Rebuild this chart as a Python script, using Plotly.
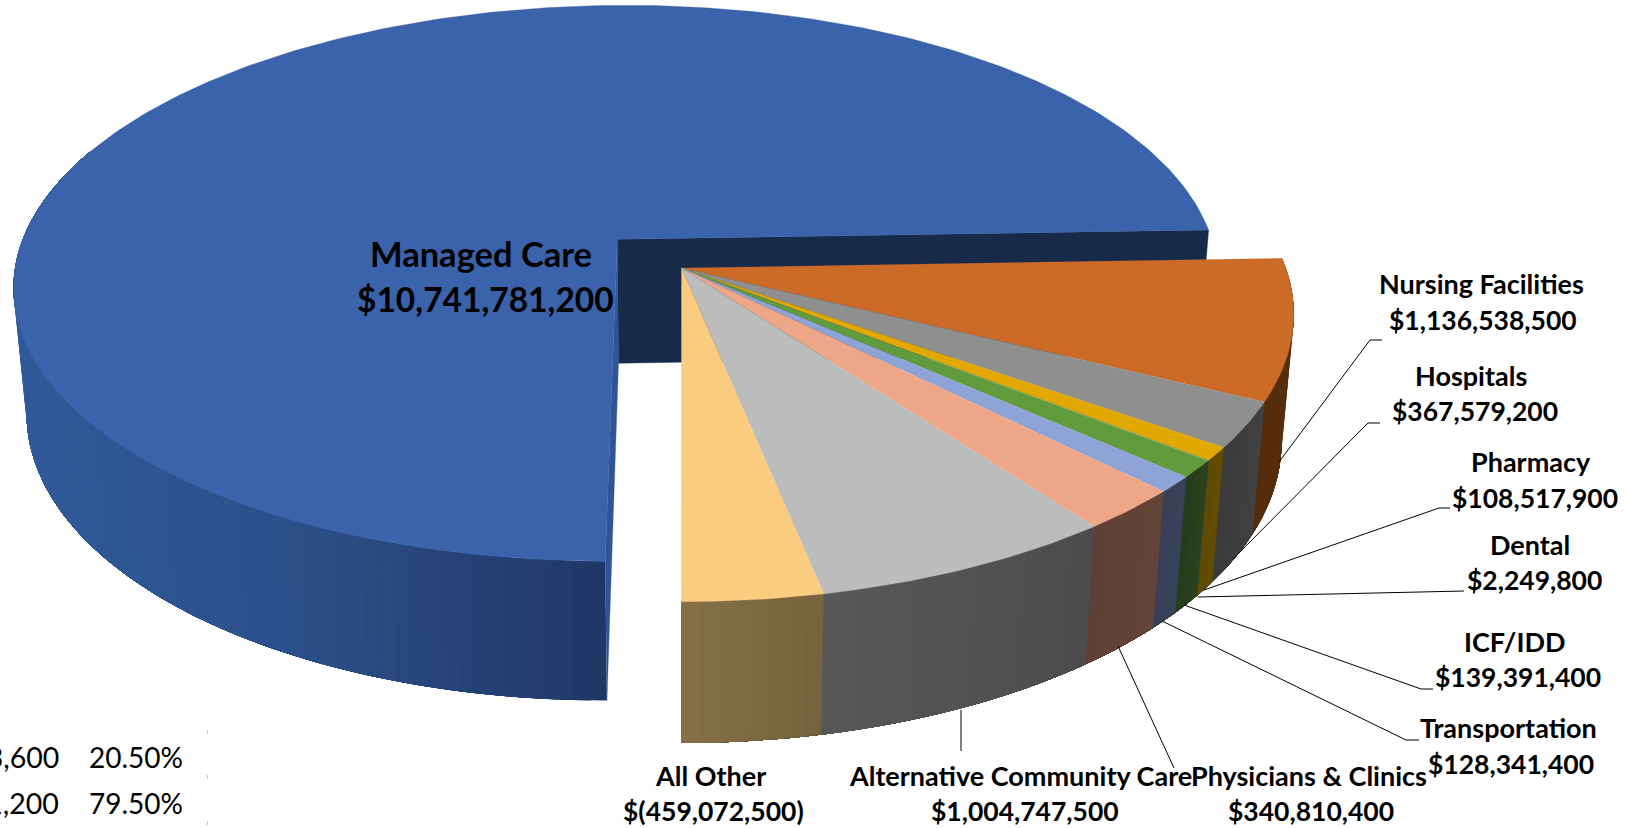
import math
import plotly.graph_objects as go

# Budget categories, clockwise from the pulled-out group's far edge
slice_names = ["Nursing Facilities", "Hospitals", "Pharmacy", "Dental", "ICF/IDD",
               "Transportation", "Physicians & Clinics", "Alternative Community Care", "All Other"]
slice_values = [1136538500, 367579200, 108517900, 2249800, 139391400,
                128341400, 340810400, 1004747500, -459072500]
managed_name = "Managed Care"
managed_value = 10741781200

top_colors = ["#cc6a28", "#8f8f8f", "#e0a800", "#4a72b8", "#629a3e",
              "#8ea3d6", "#eea688", "#bcbcbc", "#f9cc80"]
wall_colors = [((92, 50, 16), (84, 44, 12)), ((66, 66, 66), (58, 58, 58)), ((100, 78, 0), (92, 72, 0)),
               ((40, 60, 100), (40, 60, 100)), ((42, 66, 30), (36, 60, 26)),
               ((58, 66, 92), (54, 62, 88)), ((98, 68, 56), (94, 64, 54)),
               ((76, 76, 76), (88, 88, 88)), ((118, 98, 60), (134, 112, 72))]
managed_top = "#3a63ab"
managed_cut = "#172a4a"
managed_inner = "#2f5597"
managed_wall_stops = [(0, (48, 90, 154)), (300, (44, 79, 137)), (610, (31, 55, 100))]

# Summary table rows (values shown beside the pie)
summary_amounts = ["$2,769,103,600", "$10,741,781,200"]
summary_shares = ["20.50%", "79.50%"]

# Label placement: centre x, name line y, amount line y
label_slots = {
    "Nursing Facilities": (1481, 283, 1483, 320),
    "Hospitals": (1471, 375, 1475, 411),
    "Pharmacy": (1531, 461, 1535, 498),
    "Dental": (1530, 544, 1534, 580),
    "ICF/IDD": (1515, 641, 1518, 677),
    "Transportation": (1508, 727, 1511, 764),
    "Physicians & Clinics": (1309, 775, 1311, 811),
    "Alternative Community Care": (1020, 775, 1025, 811),
    "All Other": (710, 775, 713, 811),
}
leader_paths = [
    [(1382, 340), (1370, 340), (1279, 462)],
    [(1380, 423), (1368, 423), (1233, 559)],
    [(1450, 508), (1439, 508), (1204, 590)],
    [(1464, 591), (1198, 597)],
    [(1433, 689), (1421, 689), (1184, 605)],
    [(1419, 740), (1406, 740), (1162, 621)],
    [(1174, 768), (1118, 646)],
    [(961, 751), (961, 710)],
]

# Camera model of the tilted disc, in page pixels
CX, CY = 617.3, 239.3
RX, RY = 594.5, 271.0
K = 0.158
VX = 681.7
MZ = 0.0194
ZX, ZY = 681.5, 6750.0
EXPLODE = 0.15


def project(u, v, lower=False):
    w = 1 - K * v
    x = CX + (RX * u + K * v * (CX - VX)) / w
    y = CY + RY * v / w
    if lower:
        t = MZ / (w + MZ)
        x += t * (ZX - x)
        y += t * (ZY - y)
    return x, y


def rim(deg, origin=(0.0, 0.0), lower=False):
    a = math.radians(deg)
    return project(origin[0] + math.sin(a), origin[1] - math.cos(a), lower)


def polygon(points, color, line=0.0):
    xs = [p[0] for p in points] + [points[0][0]]
    ys = [p[1] for p in points] + [points[0][1]]
    return go.Scatter(x=xs, y=ys, mode="lines", fill="toself", fillcolor=color,
                      line=dict(color=color, width=line), hoverinfo="skip", showlegend=False)


def rgb(c):
    return "rgb(%d,%d,%d)" % tuple(round(v) for v in c)


def mix(a, b, t):
    return tuple(a[i] + (b[i] - a[i]) * t for i in range(3))


def stop_color(x, stops):
    if x <= stops[0][0]:
        return stops[0][1]
    for (x0, c0), (x1, c1) in zip(stops, stops[1:]):
        if x <= x1:
            return mix(c0, c1, (x - x0) / (x1 - x0))
    return stops[-1][1]


def arc(a0, a1, step, origin=(0.0, 0.0), lower=False):
    n = max(1, int(math.ceil(abs(a1 - a0) / step)))
    return [rim(a0 + (a1 - a0) * i / n, origin, lower) for i in range(n + 1)]


def wall_band(a0, a1, origin=(0.0, 0.0)):
    # Outer wall from a0 to a1: top rim forward, lower rim back
    return arc(a0, a1, 1.5, origin) + arc(a0, a1, 1.5, origin, True)[::-1]


total = sum(abs(v) for v in slice_values) + managed_value
group_sweep = sum(abs(v) for v in slice_values) / total * 360
group_start = 180 - group_sweep
group_mid = math.radians(group_start + group_sweep / 2)
offset = (EXPLODE * math.sin(group_mid), -EXPLODE * math.cos(group_mid))

fig = go.Figure()

# Large wedge: each shaded band runs to the end of the wall and the next one paints
# over it, so neighbouring bands leave no hairline between them
wall_end = 290
n_strips = 80
for i in range(n_strips):
    a0 = 180 + (wall_end - 180) * i / n_strips
    a1 = 180 + (wall_end - 180) * (i + 1) / n_strips
    mid_x = (rim(a0)[0] + rim(a1)[0]) / 2
    fig.add_trace(polygon(wall_band(a0, wall_end), rgb(stop_color(mid_x, managed_wall_stops))))

apex, apex_low = project(0, 0), project(0, 0, True)
fig.add_trace(polygon([apex, rim(group_start), rim(group_start, lower=True), apex_low], managed_cut, 0.5))
fig.add_trace(polygon([apex, rim(180), rim(180, lower=True), apex_low], managed_inner, 0.3))
fig.add_trace(polygon([apex] + arc(180, 360 + group_start, 1), managed_top, 0.3))

# Pulled-out group: walls first, then the top faces
g_apex = project(*offset)
a = group_start
spans = []
for val in slice_values:
    sweep = abs(val) / total * 360
    spans.append((a, a + sweep))
    a += sweep

for (a0, a1), (c0, c1) in zip(spans, wall_colors):
    n = max(1, int(math.ceil((a1 - a0) / 1.5)))
    for i in range(n):
        b0 = a0 + (a1 - a0) * i / n
        fig.add_trace(polygon(wall_band(b0, 180, offset), rgb(mix(c0, c1, (i + 0.5) / n))))

for (a0, a1), color in zip(spans, top_colors):
    fig.add_trace(polygon([g_apex] + arc(a0, a1, 0.75, offset), color, 0.2))

# Leader lines
for path in leader_paths:
    fig.add_trace(go.Scatter(x=[p[0] for p in path], y=[p[1] for p in path], mode="lines",
                             line=dict(color="black", width=1), hoverinfo="skip", showlegend=False))

# Faint ticks left over from the summary table's border
for tick_y in [732, 777, 823]:
    fig.add_trace(go.Scatter(x=[207.5, 207.5], y=[tick_y - 2, tick_y + 2], mode="lines",
                             line=dict(color="#c8c8c8", width=1), hoverinfo="skip", showlegend=False))

FONT = "Lato, Carlito, Calibri, sans-serif"


def text(x, y, s, size, bold=True, anchor="center"):
    weight = "<b>%s</b>" % s if bold else s
    fig.add_annotation(x=x, y=y, text=weight, showarrow=False, xanchor=anchor, yanchor="middle",
                       font=dict(family=FONT, size=size, color="black"))


def money(v):
    return "$(%s)" % format(-v, ",") if v < 0 else "$" + format(v, ",")


for name, val in zip(slice_names, slice_values):
    x1, y1, x2, y2 = label_slots[name]
    text(x1, y1, name, 27)
    text(x2, y2, money(val), 26.5)

text(481, 253, managed_name, 34.5)
text(485.5, 299, money(managed_value), 33.5)

for y, amt, share in zip([757, 803], summary_amounts, summary_shares):
    text(61, y, amt, 28.5, bold=False, anchor="right")
    text(87, y, share, 28, bold=False, anchor="left")

fig.update_layout(
    width=1627, height=828, margin=dict(l=0, r=0, t=0, b=0),
    paper_bgcolor="white", plot_bgcolor="white", showlegend=False,
    xaxis=dict(range=[0, 1627], visible=False, fixedrange=True),
    yaxis=dict(range=[828, 0], visible=False, fixedrange=True),
)
fig.write_html("out.html", config={"displayModeBar": False})
